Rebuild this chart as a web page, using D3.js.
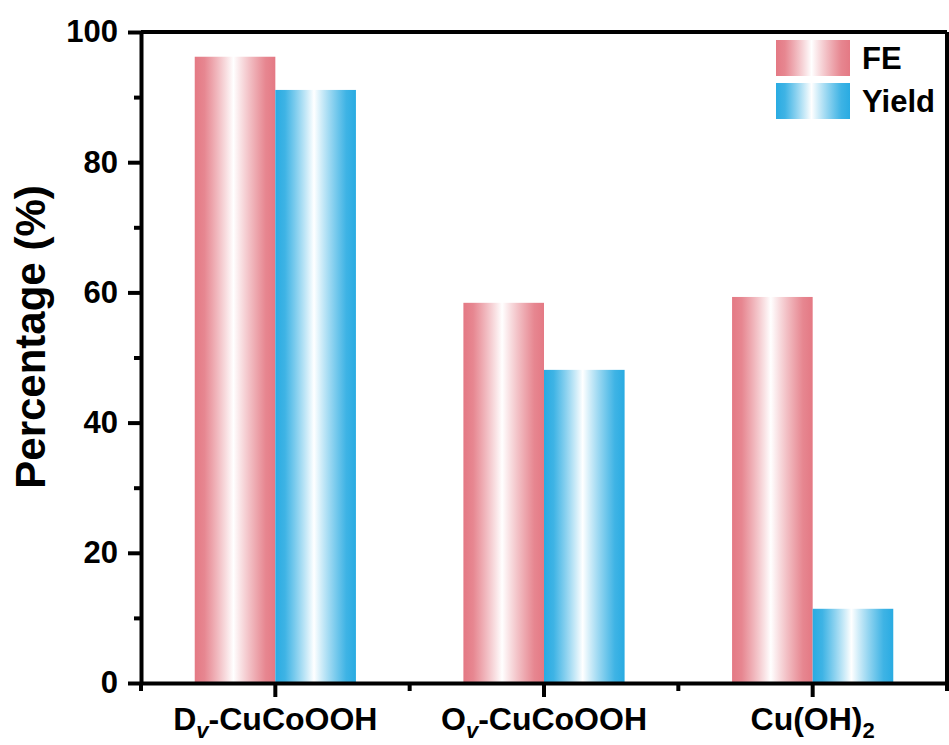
<!DOCTYPE html>
<html>
<head>
<meta charset="utf-8">
<script src="https://cdn.jsdelivr.net/npm/d3@7"></script>
<style>
  body { margin: 0; background: #fff; }
  text { font-family: "Liberation Sans", Arial, sans-serif; font-weight: bold; }
</style>
</head>
<body>
<svg id="chart"></svg>
<script>
// data
var categories = ['Dv-CuCoOOH', 'Ov-CuCoOOH', 'Cu(OH)2'];
var seriesNames = ['FE', 'Yield'];
var feValues = [96.2, 58.4, 59.3];
var yieldValues = [91.1, 48.1, 11.4];
var yTicks = [0, 20, 40, 60, 80, 100];
var yMinorTicks = [10, 30, 50, 70, 90];

var canvasWidth = 949;
var canvasHeight = 745;
var margin = { top: 32, right: 2, bottom: 62, left: 141 };
var width = canvasWidth - margin.left - margin.right;
var height = canvasHeight - margin.top - margin.bottom;

var colors = { FE: '#e47984', Yield: '#29abe2' };
var lineW = 4;

var svg = d3.select('#chart')
  .attr('width', canvasWidth)
  .attr('height', canvasHeight);

// gradients for the bars
var defs = svg.append('defs');
seriesNames.forEach(function(s) {
  var g = defs.append('linearGradient')
    .attr('id', 'grad-' + s)
    .attr('x1', '0%').attr('x2', '100%')
    .attr('y1', '0%').attr('y2', '0%');
  g.append('stop').attr('offset', '0%').attr('stop-color', colors[s]);
  g.append('stop').attr('offset', '12%').attr('stop-color', colors[s]).attr('stop-opacity', 0.9);
  g.append('stop').attr('offset', '48%').attr('stop-color', '#ffffff');
  g.append('stop').attr('offset', '88%').attr('stop-color', colors[s]).attr('stop-opacity', 0.9);
  g.append('stop').attr('offset', '100%').attr('stop-color', colors[s]);
});

var graphArea = svg.append('g')
  .attr('transform', 'translate(' + margin.left + ',' + margin.top + ')');

var xScale = d3.scaleBand().domain(categories).range([0, width]).padding(0);
var subScale = d3.scaleBand().domain(seriesNames)
  .range([xScale.bandwidth() * 0.2, xScale.bandwidth() * 0.8]);
var yScale = d3.scaleLinear().domain([0, 100]).range([height, 0]);

var rows = categories.map(function(c, i) {
  return { cat: c, FE: feValues[i], Yield: yieldValues[i] };
});

// bars
var groups = graphArea.selectAll('.grp')
  .data(rows)
  .enter().append('g')
  .attr('class', 'grp')
  .attr('transform', function(d) { return 'translate(' + xScale(d.cat) + ',0)'; });

groups.selectAll('rect')
  .data(function(d) { return seriesNames.map(function(s) { return { s: s, v: d[s] }; }); })
  .enter().append('rect')
  .attr('x', function(d) { return subScale(d.s); })
  .attr('width', subScale.bandwidth())
  .attr('y', function(d) { return yScale(d.v); })
  .attr('height', function(d) { return height - yScale(d.v); })
  .style('fill', function(d) { return 'url(#grad-' + d.s + ')'; });

// frame (top and right)
graphArea.append('line').attr('x1', 0).attr('x2', width).attr('y1', 0).attr('y2', 0)
  .attr('stroke', '#000');
graphArea.append('line').attr('x1', width).attr('x2', width).attr('y1', 0).attr('y2', height)
  .attr('stroke', '#000');

// y axis
var yAxis = graphArea.append('g')
  .attr('class', 'y axis')
  .call(d3.axisLeft(yScale).tickValues(yTicks).tickSize(13).tickPadding(10).tickSizeOuter(0));
graphArea.append('g')
  .call(d3.axisLeft(yScale).tickValues(yMinorTicks).tickSize(7).tickFormat(''))
  .select('.domain').remove();

// x axis
var xAxis = graphArea.append('g')
  .attr('class', 'x axis')
  .attr('transform', 'translate(0,' + height + ')')
  .call(d3.axisBottom(xScale).tickSize(14).tickSizeOuter(0).tickFormat(''));
var minorX = [0, xScale.step(), xScale.step() * 2, xScale.step() * 3];
graphArea.append('g')
  .attr('transform', 'translate(0,' + height + ')')
  .selectAll('line')
  .data(minorX)
  .enter().append('line')
  .attr('x1', function(d) { return d; }).attr('x2', function(d) { return d; })
  .attr('y1', 0).attr('y2', 8)
  .attr('stroke', '#000');

svg.selectAll('.axis .domain').attr('stroke', '#000');
svg.selectAll('g line, .domain').attr('stroke-width', lineW).attr('stroke', '#000');
yAxis.selectAll('.tick text')
  .style('font-size', '31px')
  .attr('fill', '#000');

// x category labels with subscripts
var labelParts = [
  [['D', ''], ['v', 'italic-sub'], ['-CuCoOOH', '']],
  [['O', ''], ['v', 'italic-sub'], ['-CuCoOOH', '']],
  [['Cu(OH)', ''], ['2', 'sub']]
];
categories.forEach(function(c, i) {
  var t = graphArea.append('text')
    .attr('x', xScale(c) + xScale.bandwidth() / 2)
    .attr('y', height + 47)
    .attr('text-anchor', 'middle')
    .style('font-size', '32px')
    .attr('fill', '#000');
  labelParts[i].forEach(function(p) {
    var ts = t.append('tspan').text(p[0]);
    if (p[1] === 'italic-sub') {
      ts.style('font-style', 'italic').style('font-size', '22px').attr('dy', 8);
    } else if (p[1] === 'sub') {
      ts.style('font-size', '22px').attr('dy', 8);
    } else if (p[0].charAt(0) === '-') {
      ts.attr('dy', -8);
    }
  });
});

// y title
svg.append('text')
  .attr('transform', 'translate(45,337) rotate(-90)')
  .attr('text-anchor', 'middle')
  .style('font-size', '42px')
  .attr('fill', '#000')
  .text('Percentage (%)');

// legend
var legend = svg.selectAll('.legend')
  .data(seriesNames)
  .enter().append('g')
  .attr('class', 'legend')
  .attr('transform', function(d, i) { return 'translate(776,' + (40 + i * 43) + ')'; });
legend.append('rect')
  .attr('width', 74)
  .attr('height', 36)
  .style('fill', function(d) { return 'url(#grad-' + d + ')'; });
legend.append('text')
  .attr('x', 86)
  .attr('y', 29)
  .style('font-size', '31px')
  .attr('fill', '#000')
  .text(function(d) { return d; });
</script>
</body>
</html>
